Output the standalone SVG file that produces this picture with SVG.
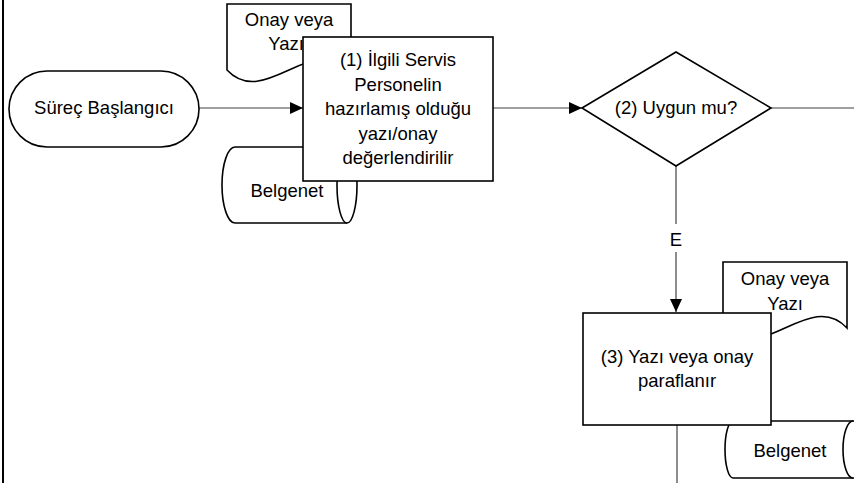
<svg xmlns="http://www.w3.org/2000/svg" width="854" height="483" viewBox="0 0 854 483">
<defs>
<style>
.shape{fill:#fff;stroke:#000;stroke-width:1.6}
.conn{fill:none;stroke:#404040;stroke-width:1.2}
.t{font-family:"Liberation Sans",Arial,sans-serif;font-size:18.5px;fill:#000;text-anchor:middle}
</style>
<marker id="arrow" viewBox="0 0 13 12" refX="13" refY="6" markerWidth="13" markerHeight="12" markerUnits="userSpaceOnUse" orient="auto">
<path d="M0,0 L13,6 L0,12 Z" fill="#000"/>
</marker>
</defs>
<rect width="854" height="483" fill="#fff"/>
<line x1="3" y1="0" x2="3" y2="483" stroke="#000" stroke-width="2"/>
<g id="connectors">
<line class="conn" x1="199" y1="108" x2="303" y2="108" marker-end="url(#arrow)"/>
<line class="conn" x1="493" y1="108" x2="582" y2="108" marker-end="url(#arrow)"/>
<line class="conn" x1="771" y1="108" x2="854" y2="108"/>
<line class="conn" x1="676" y1="166" x2="676" y2="312" marker-end="url(#arrow)"/>
<rect x="668" y="224" width="16" height="28" fill="#fff"/>
<text class="t" x="676" y="246">E</text>
<line class="conn" x1="677" y1="425" x2="677" y2="483"/>
</g>
<g id="start">
<rect class="shape" x="9" y="71" width="190" height="76" rx="38" ry="38"/>
<text class="t" x="104" y="114">Süreç Başlangıcı</text>
</g>
<g id="doc1">
<path class="shape" d="M227,4 H351 V70 C313.8,30 264.2,110 227,70 Z"/>
<text class="t" x="289" y="26">Onay veya</text>
<text class="t" x="286" y="50">Yazı</text>
</g>
<g id="belgenet1">
<path class="shape" d="M235,147 H347 A10,38 0 0 1 347,223 H235 A13,38 0 0 1 235,147 Z"/>
<path class="shape" fill="none" d="M347,147 A10,38 0 0 0 347,223"/>
<text class="t" x="287" y="197">Belgenet</text>
</g>
<g id="step1">
<rect class="shape" x="303" y="37" width="190" height="144"/>
<text class="t" x="398" y="66">(1) İlgili Servis</text>
<text class="t" x="398" y="90.5">Personelin</text>
<text class="t" x="398" y="115">hazırlamış olduğu</text>
<text class="t" x="398" y="139.5">yazı/onay</text>
<text class="t" x="398" y="164">değerlendirilir</text>
</g>
<g id="decision2">
<path class="shape" d="M582,108 L676,52 L771,108 L676,166 Z"/>
<text class="t" x="676" y="114">(2) Uygun mu?</text>
</g>
<g id="doc2">
<path class="shape" d="M723,262 H847 V328 C809.8,288 760.2,368 723,328 Z"/>
<text class="t" x="785" y="285">Onay veya</text>
<text class="t" x="785" y="310">Yazı</text>
</g>
<g id="belgenet2">
<path class="shape" d="M733,421 H853 A10,28.5 0 0 1 853,478 H733 A8,28.5 0 0 1 733,421 Z"/>
<path class="shape" fill="none" d="M853,421 A10,28.5 0 0 0 853,478"/>
<text class="t" x="790" y="457">Belgenet</text>
</g>
<g id="step3">
<rect class="shape" x="583" y="313" width="188" height="112"/>
<text class="t" x="677" y="363">(3) Yazı veya onay</text>
<text class="t" x="677" y="387">paraflanır</text>
</g>
</svg>
